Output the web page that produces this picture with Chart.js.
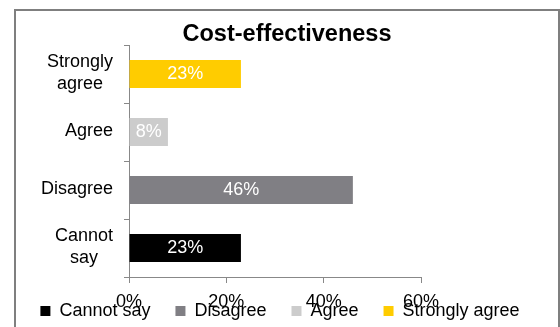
<!DOCTYPE html>
<html>
<head>
<meta charset="utf-8">
<script src="https://cdn.jsdelivr.net/npm/chart.js@4/dist/chart.umd.min.js"></script>
<style>
  body { margin: 0; background: #fff; }
  canvas { display: block; }
</style>
</head>
<body>
<canvas id="chart" width="560" height="327"></canvas>
<script>
// data (bottom to top, as in the original)
const categories = ['Cannot say', 'Disagree', 'Agree', 'Strongly agree'];
const values = [23, 46, 8, 23];
const colors = ['#000000', '#807f84', '#cccccc', '#ffcc00'];
const xTicks = [0, 20, 40, 60];

const font = "'Liberation Sans', Arial, sans-serif";
const frame = { left: 15, top: 10, right: 559 };

Chart.defaults.font.family = font;
Chart.defaults.font.size = 18;
Chart.defaults.color = '#000';

// outer frame around the chart
const framePlugin = {
    id: 'frame',
    beforeDraw(chart) {
        const ctx = chart.ctx;
        ctx.save();
        ctx.strokeStyle = '#7f7f7f';
        ctx.lineWidth = 2;
        ctx.strokeRect(frame.left, frame.top, frame.right - frame.left, chart.height);
        ctx.restore();
    },
    afterLayout(chart) {
        // centre the title on the frame, not the canvas
        chart.titleBlock.left = frame.left;
        chart.titleBlock.right = frame.right;
        // legend sits over the x tick labels, like the original
        chart.legend.top = chart.chartArea.bottom;
        chart.legend.bottom = chart.legend.top + 50;
    }
};

// category names, wrapped and centred like the original
const categoryLabels = {
    id: 'categoryLabels',
    afterDraw(chart) {
        const ctx = chart.ctx;
        const y = chart.scales.y;
        ctx.save();
        ctx.font = '18px ' + font;
        ctx.fillStyle = '#000';
        ctx.textAlign = 'center';
        ctx.textBaseline = 'middle';
        categories.forEach((c, i) => {
            const lines = c.split(' ');
            const w = Math.max(...lines.map(l => ctx.measureText(l).width));
            const cx = y.right - 16 - w / 2;
            const cy = y.getPixelForValue(i);
            lines.forEach((l, k) => {
                ctx.fillText(l, cx, cy + (k - (lines.length - 1) / 2) * 22 - 1);
            });
        });
        ctx.restore();
    }
};

// value labels inside the bars
const barLabels = {
    id: 'barLabels',
    afterDatasetsDraw(chart) {
        const ctx = chart.ctx;
        ctx.save();
        ctx.font = '18px ' + font;
        ctx.fillStyle = '#fff';
        ctx.textAlign = 'center';
        ctx.textBaseline = 'middle';
        chart.getDatasetMeta(0).data.forEach((bar, i) => {
            ctx.fillText(values[i] + '%', (bar.x + bar.base) / 2, bar.y);
        });
        ctx.restore();
    }
};

new Chart(document.getElementById('chart'), {
    type: 'bar',
    data: {
        labels: categories,
        datasets: [{
            data: values,
            backgroundColor: colors,
            barPercentage: 0.48,
            categoryPercentage: 1
        }]
    },
    options: {
        responsive: false,
        animation: false,
        indexAxis: 'y',
        layout: { padding: 0 },
        scales: {
            x: {
                min: 0,
                max: 60,
                afterBuildTicks(s) { s.ticks = xTicks.map(v => ({ value: v })); },
                afterFit(s) { s.height = 36; },
                grid: { drawOnChartArea: false, tickLength: 6, color: '#888' },
                border: { color: '#888' },
                ticks: { padding: 8, callback: v => v + '%' }
            },
            y: {
                reverse: true,
                afterFit(s) { s.width = 129; },
                grid: { drawOnChartArea: false, tickLength: 5, color: '#888' },
                border: { color: '#888' },
                ticks: { display: false }
            },
            yRight: {
                type: 'linear',
                position: 'right',
                afterFit(s) { s.width = 139; },
                grid: { display: false },
                border: { display: false },
                ticks: { display: false }
            }
        },
        plugins: {
            title: {
                display: true,
                text: 'Cost-effectiveness',
                color: '#000',
                font: { size: 23.5, weight: 'bold', lineHeight: 1 },
                padding: { top: 23, bottom: -1.5 }
            },
            legend: {
                position: 'bottom',
                maxHeight: 14,
                onClick: null,
                labels: {
                    boxWidth: 10,
                    boxHeight: 10,
                    padding: 25,
                    color: '#000',
                    generateLabels: () => categories.map((c, i) => ({
                        text: c,
                        fillStyle: colors[i],
                        strokeStyle: colors[i],
                        lineWidth: 0,
                        hidden: false,
                        index: i
                    }))
                }
            },
            tooltip: { enabled: false }
        }
    },
    plugins: [framePlugin, categoryLabels, barLabels]
});
</script>
</body>
</html>
